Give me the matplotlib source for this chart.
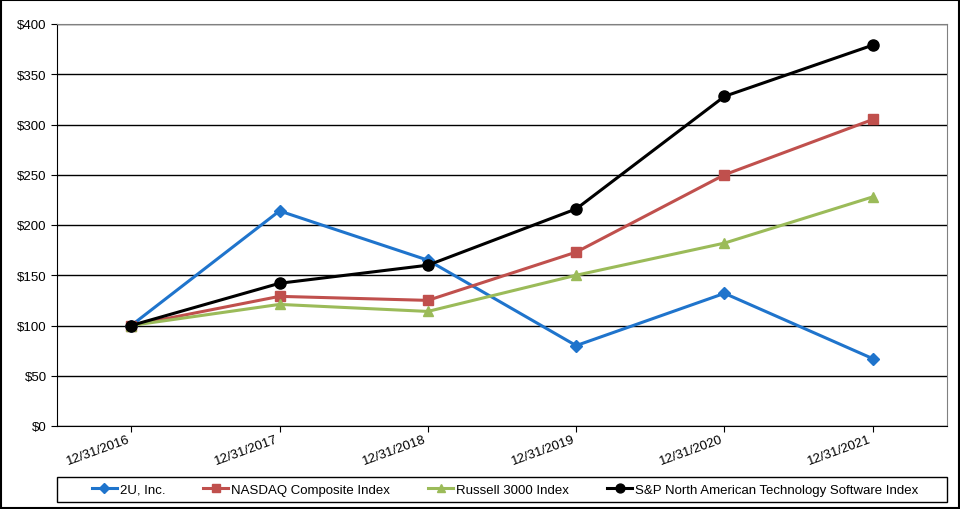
import matplotlib.pyplot as plt
from matplotlib.patches import Rectangle

plt.rcParams['font.family'] = ['Liberation Sans', 'DejaVu Sans']

dates = ['12/31/2016', '12/31/2017', '12/31/2018', '12/31/2019', '12/31/2020', '12/31/2021']
two_u = [100, 214, 165, 80, 132, 67]
nasdaq = [100, 129, 125, 173, 250, 305]
russell = [100, 121, 114, 150, 182, 228]
sp_software = [100, 142, 160, 216, 328, 379]

series = [
    ('2U, Inc.', two_u, '#1f74cc', 'D', 6),
    ('NASDAQ Composite Index', nasdaq, '#c0504d', 's', 6.5),
    ('Russell 3000 Index', russell, '#9bbb59', '^', 7.5),
    ('S&P North American Technology Software Index', sp_software, '#000000', 'o', 8),
]

fig = plt.figure(figsize=(9.6, 5.1), dpi=100)
ax = fig.add_axes([57 / 960, 83 / 510, 890 / 960, 402 / 510])

x = range(len(dates))
for name, vals, color, marker, ms in series:
    ax.plot(x, vals, color=color, lw=2.2, marker=marker, ms=ms, label=name)

ax.set_xlim(-0.5, len(dates) - 0.5)
ax.set_ylim(0, 400)
ax.set_yticks(range(0, 401, 50))
ax.set_yticklabels([f'${v}' for v in range(0, 401, 50)], fontsize=9.5)
ax.set_xticks(list(x))
ax.set_xticklabels(dates, rotation=20, ha='right', fontsize=9.5)
ax.tick_params(axis='x', length=4, pad=1)
ax.tick_params(axis='y', length=4)
ax.grid(axis='y', color='black', lw=1)
ax.set_axisbelow(True)
for side in ['top', 'right']:
    ax.spines[side].set_color('#808080')
for side in ['left', 'bottom']:
    ax.spines[side].set_color('black')

# legend entries without frame, box drawn separately to span the plot width
fig.legend(loc='center', bbox_to_anchor=(505 / 960, 19.5 / 510), ncol=4, fontsize=9.5,
           frameon=False, handlelength=1.9, handletextpad=0.2, columnspacing=2.9,
           borderpad=0, markerscale=0.8)
fig.patches.append(Rectangle((57 / 960, 7 / 510), 890 / 960, 25 / 510, transform=fig.transFigure,
                             fill=False, edgecolor='black', lw=1))

fig.patches.append(Rectangle((0.001, 0.001), 0.998, 0.997, transform=fig.transFigure,
                             fill=False, edgecolor='black', lw=1.5))

fig.savefig('out.png', dpi=100)
